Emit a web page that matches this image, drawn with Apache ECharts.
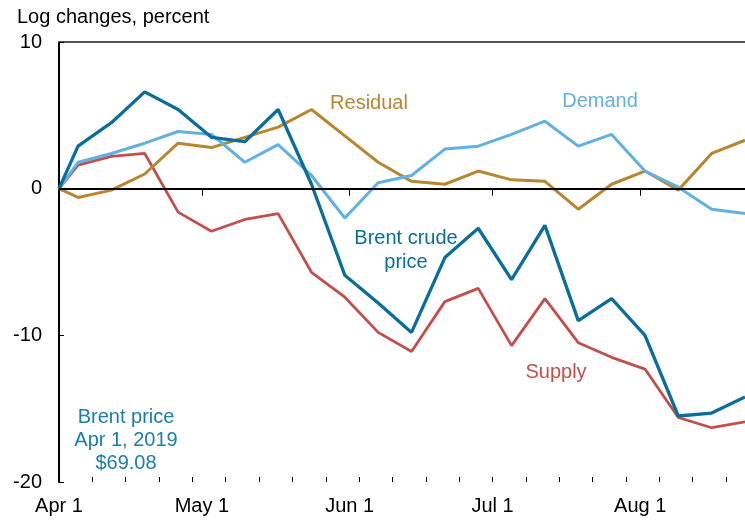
<!DOCTYPE html>
<html lang="en">
<head>
    <meta charset="UTF-8">
    <title>Brent crude price decomposition</title>
    <style>
        html, body { margin: 0; padding: 0; background: #fff; }
        #chart { width: 745px; height: 520px; }
    </style>
</head>
<body>
    <div id="chart"></div>
    <script src="https://cdn.jsdelivr.net/npm/echarts@6.0.0/dist/echarts.min.js"></script>
    <script>
        // weekly observations (Fridays), starting from the Apr 1 base date
        const dates = ['2019-04-01', '2019-04-05', '2019-04-12', '2019-04-19', '2019-04-26',
            '2019-05-03', '2019-05-10', '2019-05-17', '2019-05-24', '2019-05-31',
            '2019-06-07', '2019-06-14', '2019-06-21', '2019-06-28', '2019-07-05',
            '2019-07-12', '2019-07-19', '2019-07-26', '2019-08-02', '2019-08-09',
            '2019-08-16', '2019-08-23'];

        const brent = [0, 2.9, 4.5, 6.6, 5.4, 3.5, 3.2, 5.4, 0.3, -5.9,
            -7.8, -9.8, -4.7, -2.7, -6.2, -2.5, -9.0, -7.5, -10.0, -15.5, -15.3, -14.2];
        const demand = [0, 1.8, 2.4, 3.1, 3.9, 3.7, 1.8, 3.0, 0.9, -2.0,
            0.4, 0.9, 2.7, 2.9, 3.7, 4.6, 2.9, 3.7, 1.2, 0.1, -1.4, -1.7];
        const residual = [0, -0.6, -0.1, 1.0, 3.1, 2.8, 3.5, 4.2, 5.4, 3.6,
            1.8, 0.5, 0.3, 1.2, 0.6, 0.5, -1.4, 0.3, 1.2, -0.1, 2.4, 3.3];
        const supply = [0, 1.6, 2.2, 2.4, -1.6, -2.9, -2.1, -1.7, -5.7, -7.4,
            -9.8, -11.1, -7.7, -6.8, -10.7, -7.5, -10.5, -11.5, -12.3, -15.6, -16.3, -15.9];

        const monthNames = ['Jan', 'Feb', 'Mar', 'Apr', 'May', 'Jun',
            'Jul', 'Aug', 'Sep', 'Oct', 'Nov', 'Dec'];
        const yTicks = { min: -20, max: 10, step: 10 };

        const FONT = 'Liberation Sans, Arial, sans-serif';
        const colors = {
            brent: '#0a6e9c',
            demand: '#62b1e3',
            residual: '#b8862f',
            supply: '#c24f4c'
        };

        const toPairs = vals => vals.map((v, i) => [dates[i], v]);
        const DAY = 24 * 3600 * 1000;
        const xMin = new Date(2019, 3, 1).getTime();
        const xMax = new Date(2019, 7, 23).getTime();
        const spanDays = Math.round((xMax - xMin) / DAY);

        const chart = echarts.init(document.getElementById('chart'));

        function lineSeries(name, vals, color, width, extra) {
            return Object.assign({
                name: name,
                type: 'line',
                xAxisIndex: 0,
                yAxisIndex: 0,
                data: toPairs(vals),
                symbol: 'none',
                lineStyle: { color: color, width: width },
                itemStyle: { color: color }
            }, extra || {});
        }

        const option = {
            animation: false,
            textStyle: { fontFamily: FONT },
            grid: { left: 59, right: 0, top: 42, bottom: 38 },
            xAxis: [
                {
                    // month ticks + labels
                    type: 'time',
                    position: 'bottom',
                    min: xMin,
                    max: xMax,
                    minInterval: 28 * DAY,
                    maxInterval: 31 * DAY,
                    axisLine: { lineStyle: { color: '#000', width: 2 } },
                    axisTick: { show: true, inside: false, length: 7, lineStyle: { color: '#000', width: 1 } },
                    axisLabel: {
                        color: '#000',
                        fontSize: 20,
                        fontFamily: FONT,
                        margin: 14,
                        showMaxLabel: false,
                        formatter: v => {
                            const d = new Date(v);
                            return monthNames[d.getMonth()] + ' ' + d.getDate();
                        }
                    },
                    splitLine: { show: false }
                },
                {
                    // weekly minor ticks pointing up
                    type: 'value',
                    position: 'bottom',
                    min: 0,
                    max: spanDays,
                    interval: 7,
                    axisLine: { show: false },
                    axisTick: { show: true, inside: true, length: 5, lineStyle: { color: '#000', width: 1 } },
                    axisLabel: { show: false },
                    splitLine: { show: false }
                },
                {
                    // top frame line
                    type: 'value',
                    position: 'top',
                    min: 0,
                    max: 1,
                    axisLine: { show: true, lineStyle: { color: '#555', width: 2 } },
                    axisTick: { show: false },
                    axisLabel: { show: false },
                    splitLine: { show: false }
                }
            ],
            yAxis: {
                type: 'value',
                min: yTicks.min,
                max: yTicks.max,
                interval: yTicks.step,
                axisLine: { show: true, lineStyle: { color: '#000', width: 2 } },
                axisTick: { show: true, inside: true, length: 5, lineStyle: { color: '#000', width: 1 } },
                axisLabel: { color: '#000', fontSize: 20, fontFamily: FONT, margin: 17 },
                splitLine: { show: false }
            },
            series: [
                lineSeries('Supply', supply, colors.supply, 2.8, {
                    markLine: {
                        silent: true,
                        symbol: 'none',
                        label: { show: false },
                        lineStyle: { color: '#000', width: 2, type: 'solid' },
                        data: [{ yAxis: 0 }]
                    }
                }),
                lineSeries('Residual', residual, colors.residual, 3),
                lineSeries('Demand', demand, colors.demand, 3),
                lineSeries('Brent crude price', brent, colors.brent, 3.3)
            ],
            graphic: [
                {
                    type: 'text', left: 17, top: 7,
                    style: { text: 'Log changes, percent', fill: '#000', font: '20px ' + FONT }
                },
                {
                    type: 'text', x: 369, y: 103,
                    style: { text: 'Residual', fill: colors.residual, font: '20px ' + FONT, align: 'center', verticalAlign: 'middle' }
                },
                {
                    type: 'text', x: 600, y: 101,
                    style: { text: 'Demand', fill: colors.demand, font: '20px ' + FONT, align: 'center', verticalAlign: 'middle' }
                },
                {
                    type: 'text', x: 406, y: 250,
                    style: { text: 'Brent crude\nprice', fill: colors.brent, font: '20px ' + FONT, lineHeight: 24, align: 'center', verticalAlign: 'middle' }
                },
                {
                    type: 'text', x: 556, y: 372,
                    style: { text: 'Supply', fill: colors.supply, font: '20px ' + FONT, align: 'center', verticalAlign: 'middle' }
                },
                {
                    type: 'text', x: 126, y: 440,
                    style: { text: 'Brent price\nApr 1, 2019\n$69.08', fill: '#1b7cae', font: '20px ' + FONT, lineHeight: 23, align: 'center', verticalAlign: 'middle' }
                }
            ]
        };

        chart.setOption(option);
    </script>
</body>
</html>
